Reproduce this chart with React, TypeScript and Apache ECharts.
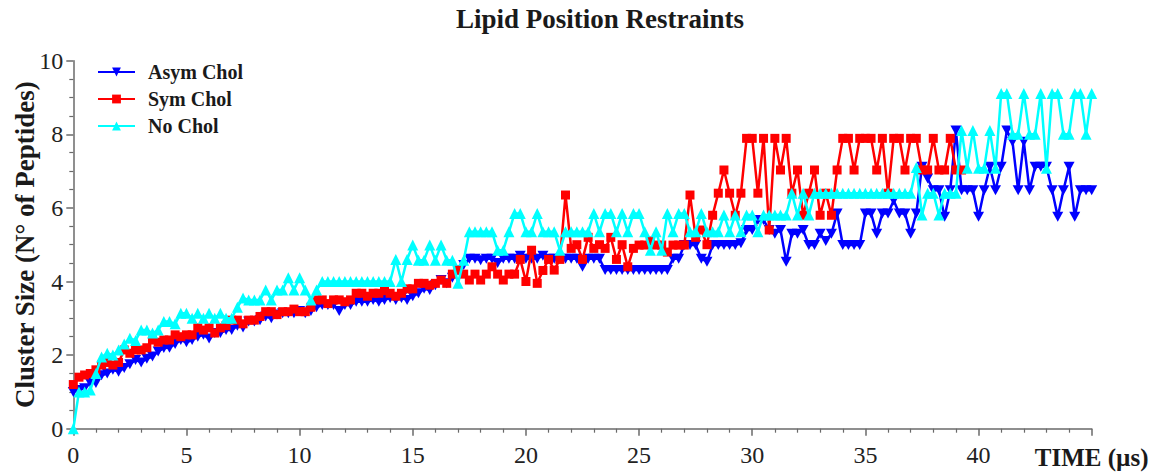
import React, { useEffect, useRef } from 'react';
import * as echarts from 'echarts';

// Sampling interval of the trajectories (µs)
const SAMPLE_STEP_US = 0.25;

const TITLE = 'Lipid Position Restraints';
const X_NAME = 'TIME (µs)';
const Y_NAME = 'Cluster Size (N° of Peptides)';
const SERIES_NAMES = ['Asym Chol', 'Sym Chol', 'No Chol'];

// Asym Chol (blue, downward triangles), t = 0 .. 45 µs
const asymChol = [
  1.0, 1.05, 1.1, 1.24, 1.24, 1.45, 1.5, 1.6, 1.55, 1.65, 1.75, 1.87, 1.8, 1.9, 1.96, 2.1, 2.19, 2.2, 2.3, 2.41,
  2.35, 2.41, 2.5, 2.55, 2.45, 2.6, 2.6, 2.68, 2.68, 2.8, 2.75, 2.91, 2.91, 2.95, 3.05, 3.0, 3.1, 3.14, 3.14, 3.14,
  3.2, 3.14, 3.2, 3.3, 3.36, 3.36, 3.36, 3.2, 3.36, 3.36, 3.45, 3.45, 3.45, 3.5, 3.45, 3.5, 3.55, 3.5, 3.55, 3.5,
  3.6, 3.68, 3.8, 3.77, 3.9, 4.04, 3.95, 4.1, 4.3, 4.45, 4.62, 4.62, 4.58, 4.62, 4.62, 4.5, 4.62, 4.62, 4.62, 4.7,
  4.62, 4.62, 4.62, 4.7, 4.62, 4.62, 4.62, 4.62, 4.62, 4.62, 4.4, 4.62, 4.62, 4.62, 4.31, 4.31, 4.31, 4.31, 4.31, 4.31,
  4.31, 4.31, 4.31, 4.31, 4.31, 4.31, 4.62, 4.62, 4.99, 4.99, 4.99, 4.62, 4.54, 4.99, 4.99, 4.99, 4.99, 4.99, 5.04, 5.4,
  5.4, 5.67, 5.67, 5.4, 5.3, 5.4, 4.54, 5.3, 5.3, 5.4, 4.99, 4.99, 5.3, 5.1, 5.3, 5.85, 4.99, 4.99, 4.99, 4.99,
  5.85, 5.85, 5.3, 5.85, 5.85, 6.2, 5.85, 5.85, 5.3, 5.85, 7.12, 6.8, 6.48, 6.48, 5.76, 6.48, 8.1, 6.48, 6.48, 6.48,
  5.76, 6.48, 7.12, 6.48, 7.12, 8.1, 7.8, 6.48, 7.8, 6.48, 7.12, 7.12, 7.12, 6.48, 5.76, 6.48, 7.12, 5.76, 6.48, 6.48,
  6.48,
];

// Sym Chol (red, squares), t = 0 .. 39.25 µs
const symChol = [
  1.2, 1.4, 1.46, 1.5, 1.6, 1.73, 1.8, 1.73, 1.8, 2.14, 2.05, 2.14, 2.14, 2.2, 2.41, 2.35, 2.41, 2.41, 2.55, 2.5,
  2.55, 2.55, 2.74, 2.68, 2.74, 2.6, 2.74, 2.8, 2.95, 2.95, 2.85, 2.95, 2.95, 3.05, 3.18, 3.18, 3.1, 3.18, 3.18, 3.25,
  3.18, 3.18, 3.3, 3.5, 3.5, 3.4, 3.5, 3.5, 3.45, 3.5, 3.68, 3.68, 3.6, 3.68, 3.68, 3.75, 3.68, 3.6, 3.68, 3.8,
  3.8, 3.95, 3.95, 3.9, 3.95, 4.04, 3.95, 4.2, 4.31, 4.2, 4.04, 4.2, 4.04, 4.2, 4.4, 4.2, 4.04, 4.2, 4.2, 4.6,
  4.0, 4.85, 3.95, 4.3, 4.6, 4.31, 4.6, 6.35, 4.9, 5.0, 4.6, 5.2, 4.9, 5.0, 4.9, 5.2, 4.6, 5.0, 4.4, 4.9,
  4.99, 4.99, 5.1, 4.99, 4.99, 4.8, 4.99, 4.99, 4.99, 6.35, 5.2, 5.4, 5.0, 5.8, 6.4, 7.03, 6.4, 5.8, 6.4, 7.89,
  7.89, 6.4, 7.89, 5.4, 7.89, 7.03, 7.89, 6.4, 7.03, 5.8, 6.4, 7.03, 5.8, 6.4, 5.8, 7.03, 7.89, 7.89, 7.03, 7.89,
  7.89, 7.89, 7.03, 7.89, 6.4, 7.89, 7.89, 7.03, 7.89, 7.89, 7.03, 7.03, 7.89, 7.03, 7.03, 7.89, 7.03, 7.03,
];

// No Chol (cyan, upward triangles), t = 0 .. 45 µs
const noChol = [
  0, 1.0, 1.0, 1.05, 1.5, 1.95, 2.05, 2.0, 2.14, 2.3, 2.46, 2.4, 2.68, 2.68, 2.6, 2.68, 2.91, 2.91, 2.85, 3.14,
  3.14, 3.0, 3.14, 3.0, 3.14, 3.0, 3.14, 3.0, 3.0, 3.3, 3.55, 3.5, 3.5, 3.5, 3.77, 3.5, 3.77, 3.77, 4.1, 3.77,
  4.1, 3.77, 3.5, 3.77, 4.0, 4.0, 4.0, 4.0, 4.0, 4.0, 4.0, 4.0, 4.0, 4.0, 4.0, 4.0, 4.0, 4.6, 4.0, 4.6,
  4.99, 4.58, 4.58, 4.99, 4.58, 4.99, 4.58, 4.58, 3.95, 4.58, 5.35, 5.35, 5.35, 5.35, 5.35, 4.85, 4.85, 5.35, 5.85, 5.85,
  5.35, 5.35, 5.85, 5.35, 5.35, 5.35, 4.85, 5.35, 5.35, 5.35, 5.35, 5.35, 5.85, 5.35, 5.85, 5.85, 5.35, 5.85, 5.35, 5.85,
  5.85, 5.35, 4.85, 5.35, 4.85, 5.85, 5.35, 5.85, 5.85, 5.35, 5.35, 5.85, 5.35, 5.35, 5.35, 5.81, 5.35, 5.81, 5.35, 5.81,
  5.81, 5.35, 5.81, 5.81, 5.81, 5.81, 5.81, 6.4, 5.81, 6.4, 5.81, 6.4, 6.4, 6.4, 6.4, 6.4, 6.4, 6.4, 6.4, 6.4,
  6.4, 6.4, 6.4, 6.4, 6.4, 6.4, 6.4, 6.4, 6.4, 7.1, 5.81, 6.4, 6.4, 5.81, 6.4, 6.4, 6.4, 8.1, 7.08, 8.1,
  7.08, 7.08, 8.1, 7.08, 9.11, 9.11, 8.0, 8.0, 9.11, 8.0, 8.0, 9.11, 7.08, 9.11, 9.11, 8.0, 8.0, 9.11, 9.11, 8.0,
  9.11,
];

const toPairs = (values: number[]) => values.map((v, i) => [i * SAMPLE_STEP_US, v]);

const SERIF = "'Liberation Serif', 'Times New Roman', serif";

export default function App() {
  const ref = useRef<HTMLDivElement>(null);

  useEffect(() => {
    if (!ref.current) return;
    const chart = echarts.init(ref.current, undefined, { renderer: 'svg' });
    const axisColor = '#6a6a6a';
    chart.setOption({
      animation: false,
      backgroundColor: '#ffffff',
      title: {
        text: TITLE,
        left: 456,
        top: 5,
        padding: 0,
        textStyle: { fontFamily: SERIF, fontSize: 27, fontWeight: 'bold', color: '#1a1a1a' },
      },
      legend: {
        data: SERIES_NAMES,
        orient: 'vertical',
        left: 97,
        top: 62,
        padding: 0,
        itemWidth: 37,
        itemHeight: 11,
        itemGap: 7,
        textStyle: { fontFamily: SERIF, fontSize: 20, fontWeight: 'bold', color: '#1a1a1a', padding: [0, 0, 0, 8] },
      },
      grid: {
        left: 73.3,
        right: 57.3,
        top: 60.7,
        bottom: 43.3,
        containLabel: false,
        outerBoundsMode: 'none',
      },
      xAxis: {
        type: 'value',
        min: 0,
        max: 45,
        interval: 5,
        name: X_NAME,
        nameLocation: 'end',
        nameGap: 0,
        nameMoveOverlap: false,
        nameTextStyle: {
          fontFamily: SERIF, fontSize: 25, fontWeight: 'bold', color: '#1a1a1a',
          align: 'center', verticalAlign: 'top', padding: [16, 0, 0, 0],
        },
        splitLine: { show: false },
        axisLine: { lineStyle: { color: axisColor, width: 1.5 } },
        axisTick: { show: true, length: 7, lineStyle: { color: axisColor, width: 1.5 } },
        minorTick: { show: true, splitNumber: 5, length: 4, lineStyle: { color: axisColor, width: 1.2 } },
        axisLabel: {
          showMaxLabel: false,
          fontFamily: SERIF, fontSize: 24, color: '#222', margin: 14,
        },
      },
      yAxis: {
        type: 'value',
        min: 0,
        max: 10,
        interval: 2,
        name: Y_NAME,
        nameLocation: 'middle',
        nameRotate: 90,
        nameGap: 35,
        nameMoveOverlap: false,
        nameTextStyle: { fontFamily: SERIF, fontSize: 27, fontWeight: 'bold', color: '#1a1a1a' },
        splitLine: { show: false },
        axisLine: { show: true, lineStyle: { color: axisColor, width: 1.5 } },
        axisTick: { show: true, length: 7, lineStyle: { color: axisColor, width: 1.5 } },
        minorTick: { show: true, splitNumber: 4, length: 4, lineStyle: { color: axisColor, width: 1.2 } },
        axisLabel: { fontFamily: SERIF, fontSize: 24, color: '#222', margin: 10 },
      },
      series: [
        {
          name: SERIES_NAMES[0],
          type: 'line',
          data: toPairs(asymChol),
          symbol: 'path://M0,0L10,0L5,9Z',
          symbolSize: [11, 10],
          showSymbol: true,
          color: '#0000ff',
          lineStyle: { color: '#0000ff', width: 2.5 },
          itemStyle: { color: '#0000ff' },
          silent: true,
          z: 2,
        },
        {
          name: SERIES_NAMES[1],
          type: 'line',
          data: toPairs(symChol),
          symbol: 'rect',
          symbolSize: 9,
          showSymbol: true,
          color: '#ff0000',
          lineStyle: { color: '#ff0000', width: 2.5 },
          itemStyle: { color: '#ff0000' },
          silent: true,
          z: 3,
        },
        {
          name: SERIES_NAMES[2],
          type: 'line',
          data: toPairs(noChol),
          symbol: 'triangle',
          symbolSize: 11,
          showSymbol: true,
          color: '#00ffff',
          lineStyle: { color: '#00ffff', width: 2.5 },
          itemStyle: { color: '#00ffff' },
          silent: true,
          z: 4,
        },
      ],
    });
    return () => chart.dispose();
  }, []);

  return (
    <div
      ref={ref}
      style={{ position: 'absolute', left: 0, top: 0, width: 1149, height: 472 }}
    />
  );
}
